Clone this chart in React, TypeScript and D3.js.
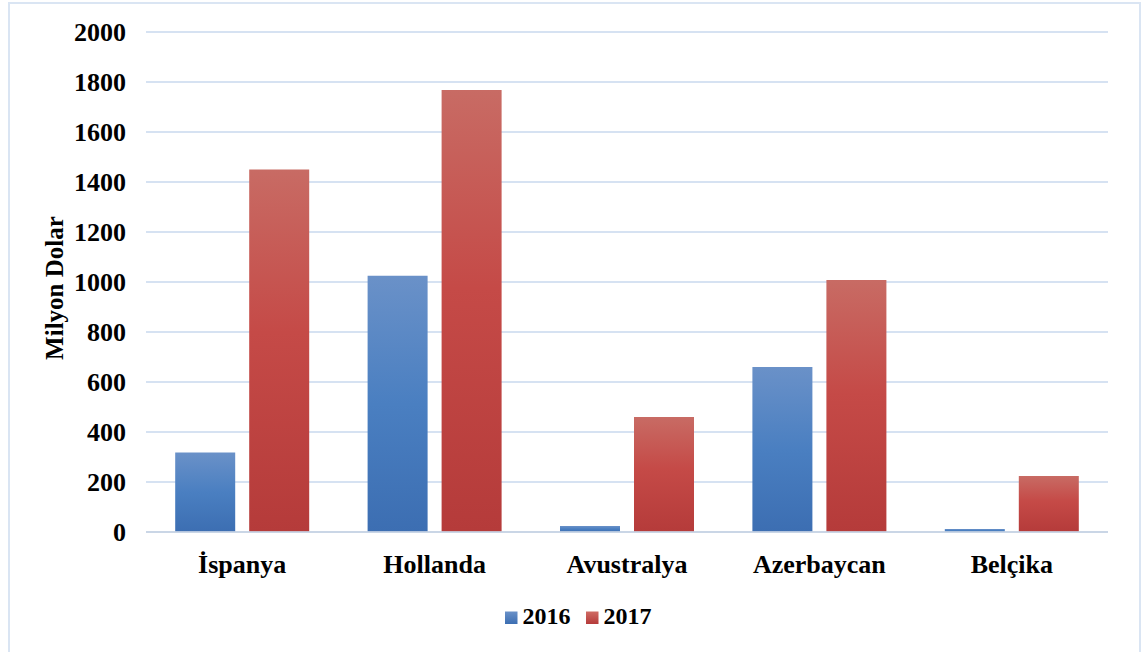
import React from "react";
import * as d3 from "d3";

const categories = ["İspanya", "Hollanda", "Avustralya", "Azerbaycan", "Belçika"];
const seriesNames = ["2016", "2017"];
const values2016 = [318, 1025, 24, 660, 12];
const values2017 = [1450, 1768, 460, 1008, 224];
const yTicks = [0, 200, 400, 600, 800, 1000, 1200, 1400, 1600, 1800, 2000];
const yTitle = "Milyon Dolar";

const W = 1144;
const H = 652;
const FONT = "'Liberation Serif', 'Times New Roman', serif";

export default function App() {
  const x = d3.scaleBand<string>().domain(categories).range([146, 1108]).padding(0);
  const groupW = 134;
  const inner = d3.scaleBand<string>().domain(seriesNames).range([0, groupW]).paddingInner(14 / 74).paddingOuter(0);
  const y = d3.scaleLinear().domain([0, 2000]).range([532, 32]);
  const series = [values2016, values2017];
  const fills = ["url(#gBlue)", "url(#gRed)"];
  const off = (x.bandwidth() - groupW) / 2;

  return (
    <svg width={W} height={H} style={{ position: "absolute", left: 0, top: 0, background: "#fff" }}>
      <defs>
        <linearGradient id="gBlue" x1="0" y1="0" x2="0" y2="1">
          <stop offset="0" stopColor="#6a91c8" />
          <stop offset="0.5" stopColor="#4a7fc1" />
          <stop offset="1" stopColor="#3c6eb2" />
        </linearGradient>
        <linearGradient id="gRed" x1="0" y1="0" x2="0" y2="1">
          <stop offset="0" stopColor="#c86b64" />
          <stop offset="0.45" stopColor="#c54a47" />
          <stop offset="1" stopColor="#b53b3a" />
        </linearGradient>
        <linearGradient id="gBlueL" x1="0" y1="0" x2="0" y2="1">
          <stop offset="0" stopColor="#6a91c8" />
          <stop offset="1" stopColor="#3c6eb2" />
        </linearGradient>
        <linearGradient id="gRedL" x1="0" y1="0" x2="0" y2="1">
          <stop offset="0" stopColor="#cf6b64" />
          <stop offset="1" stopColor="#b53b3a" />
        </linearGradient>
      </defs>
      <rect x={0} y={0} width={W} height={H} fill="#fff" />
      <rect x={9} y={3} width={1131} height={H + 10} fill="none" stroke="#dae5f3" strokeWidth={2} />

      {yTicks.map((t) => (
        <g key={t}>
          <line x1={146} x2={1108} y1={y(t)} y2={y(t)} stroke="#d6e2f2" strokeWidth={2.2} />
          <text
            x={126}
            y={y(t)}
            dy="0.35em"
            textAnchor="end"
            fontFamily={FONT}
            fontWeight="bold"
            fontSize={26}
            fill="#000"
          >
            {t}
          </text>
        </g>
      ))}

      {categories.map((c, i) => (
        <g key={c} transform={`translate(${(x(c) as number) + off},0)`}>
          {series.map((vals, s) => (
            <rect
              key={s}
              x={inner(seriesNames[s]) as number}
              y={y(vals[i])}
              width={inner.bandwidth()}
              height={y(0) - y(vals[i])}
              fill={fills[s]}
            />
          ))}
        </g>
      ))}

      <line x1={146} x2={1108} y1={y(0)} y2={y(0)} stroke="#c8d4e4" strokeOpacity={0.85} strokeWidth={2.2} />

      {categories.map((c) => (
        <text
          key={c}
          x={(x(c) as number) + x.bandwidth() / 2}
          y={573}
          textAnchor="middle"
          fontFamily={FONT}
          fontWeight="bold"
          fontSize={26}
          fill="#000"
        >
          {c}
        </text>
      ))}

      <text
        transform={`translate(63,288) rotate(-90)`}
        textAnchor="middle"
        fontFamily={FONT}
        fontWeight="bold"
        fontSize={25}
        fill="#000"
      >
        {yTitle}
      </text>

      {seriesNames.map((s, i) => (
        <g key={s} transform={`translate(${505 + i * 81},0)`}>
          <rect x={0} y={611.5} width={12.5} height={12.5} fill={i === 0 ? "url(#gBlueL)" : "url(#gRedL)"} />
          <text x={17.5} y={624} fontFamily={FONT} fontWeight="bold" fontSize={24} fill="#000">
            {s}
          </text>
        </g>
      ))}
    </svg>
  );
}
